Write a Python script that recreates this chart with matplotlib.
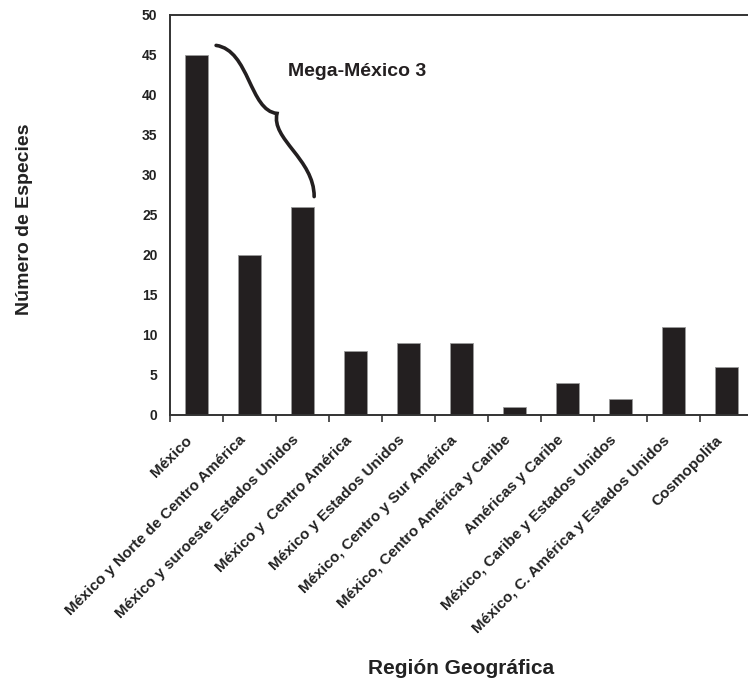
import numpy as np
import matplotlib
matplotlib.use("Agg")
import matplotlib.pyplot as plt
from matplotlib.path import Path
from matplotlib.patches import PathPatch
from matplotlib.transforms import ScaledTranslation

plt.rcParams["font.family"] = ["Liberation Sans", "DejaVu Sans"]

REGIONS = [
    "México",
    "México y Norte de Centro América",
    "México y suroeste Estados Unidos",
    "México y  Centro América",
    "México y Estados Unidos",
    "México, Centro y Sur América",
    "México, Centro América y Caribe",
    "Américas y Caribe",
    "México, Caribe y Estados Unidos",
    "México, C. América y Estados Unidos",
    "Cosmopolita",
]
SPECIES = [45, 20, 26, 8, 9, 9, 1, 4, 2, 11, 6]
Y_TICKS = list(range(0, 55, 5))

BAR_COLOR = "#231f20"
AXIS_COLOR = "#333333"


def draw_brace(ax):
    # curly brace over the first three bars (data coords)
    verts = [
        (0.37, 46.2), (1.0, 45.6), (1.0, 38.0), (1.52, 37.7),
        (1.40, 34.5), (2.22, 32.0), (2.22, 27.3),
    ]
    codes = [Path.MOVETO, Path.CURVE4, Path.CURVE4, Path.CURVE4,
             Path.CURVE4, Path.CURVE4, Path.CURVE4]
    patch = PathPatch(Path(verts, codes), facecolor="none", edgecolor=BAR_COLOR,
                      linewidth=2.6, capstyle="round", clip_on=False)
    ax.add_patch(patch)
    ax.text(1.73, 42.9, "Mega-México 3", fontsize=14, fontweight="bold",
            color=BAR_COLOR, ha="left", va="center")


def main():
    fig = plt.figure(figsize=(7.48, 6.82), dpi=100)
    ax = fig.add_axes([170 / 748, 1 - 415 / 682, 583 / 748, 400 / 682])

    x = np.arange(len(REGIONS))
    ax.bar(x, SPECIES, width=0.45, color=BAR_COLOR, edgecolor="#9a9a9a",
           linewidth=0.6, zorder=2)

    ax.set_xlim(-0.5, len(REGIONS) - 0.5)
    ax.set_ylim(0, 50)
    ax.set_yticks(Y_TICKS)
    ax.set_yticklabels([str(t) for t in Y_TICKS], fontsize=10, fontweight="bold",
                       color="#222222")
    ax.tick_params(axis="y", length=0, pad=9)

    ax.set_xticks(x)
    ax.set_xticklabels(REGIONS, rotation=45, ha="right", va="top",
                       rotation_mode="anchor", fontsize=11, fontweight="bold",
                       color="#222222")
    ax.tick_params(axis="x", which="major", length=0, pad=13)
    shift = ScaledTranslation(-8 / 72, 0, fig.dpi_scale_trans)
    for lbl in ax.get_xticklabels():
        lbl.set_transform(lbl.get_transform() + shift)
    ax.set_xticks(np.arange(-0.5, len(REGIONS), 1.0), minor=True)
    ax.tick_params(axis="x", which="minor", length=5, width=1.2, color=AXIS_COLOR)

    for side in ["left", "top", "bottom", "right"]:
        ax.spines[side].set_color(AXIS_COLOR)
        ax.spines[side].set_linewidth(1.4)

    ax.set_ylabel("Número de Especies", fontsize=14, fontweight="bold",
                  color="#222222")
    ax.yaxis.set_label_coords(-0.235, 0.49)
    ax.set_xlabel("Región Geográfica", fontsize=15, fontweight="bold",
                  color="#222222")
    ax.xaxis.set_label_coords(0.5, -0.61)

    draw_brace(ax)

    plt.savefig("out.png", dpi=100)


if __name__ == "__main__":
    main()
